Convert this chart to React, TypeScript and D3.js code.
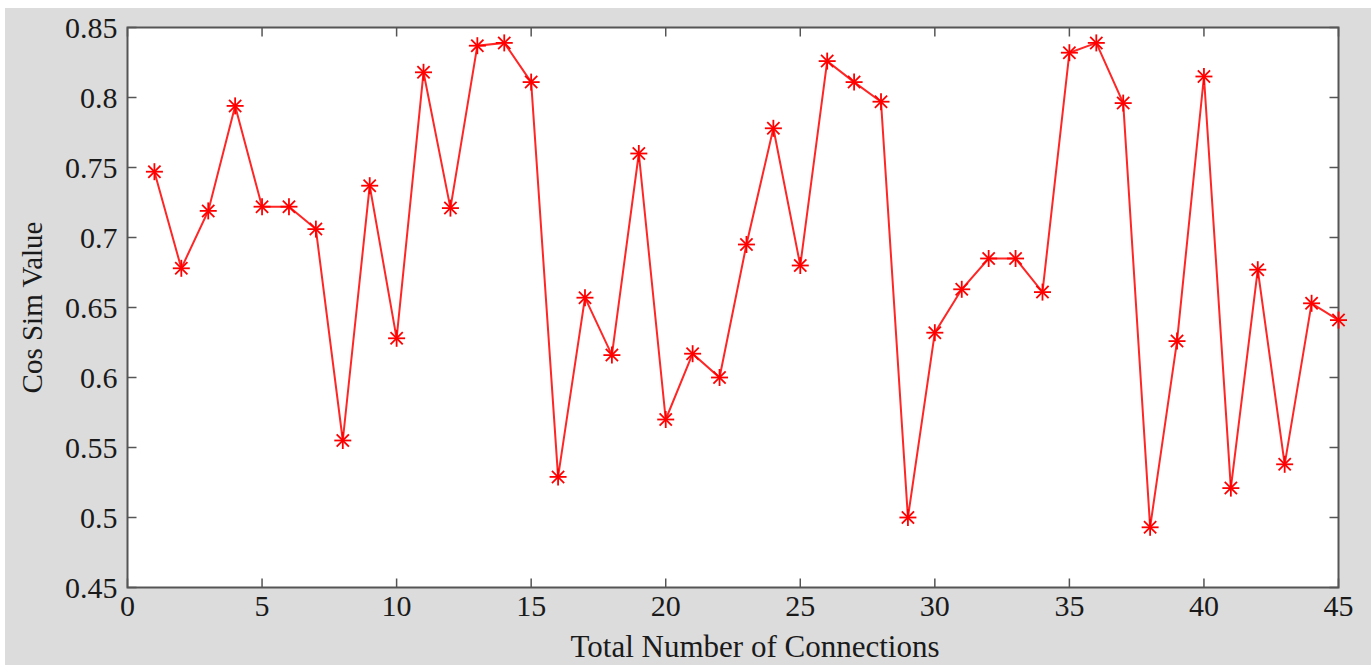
import React from "react";
import * as d3 from "d3";

const connections = d3.range(1, 46);
const cosSim = [
  0.747, 0.678, 0.719, 0.794, 0.722, 0.722, 0.706, 0.555, 0.737, 0.628,
  0.818, 0.721, 0.837, 0.839, 0.811, 0.529, 0.657, 0.616, 0.760, 0.570,
  0.617, 0.600, 0.695, 0.778, 0.680, 0.826, 0.811, 0.797, 0.500, 0.632,
  0.663, 0.685, 0.685, 0.661, 0.832, 0.839, 0.796, 0.493, 0.626, 0.815,
  0.521, 0.677, 0.538, 0.653, 0.641,
];
const xTicks = [0, 5, 10, 15, 20, 25, 30, 35, 40, 45];
const yTicks = [0.45, 0.5, 0.55, 0.6, 0.65, 0.7, 0.75, 0.8, 0.85];

const W = 1371;
const H = 665;
const L = 127.5, R = 1338.5, T = 27.5, B = 587.5;

export default function App() {
  const x = d3.scaleLinear().domain([0, 45]).range([L, R]);
  const y = d3.scaleLinear().domain([0.45, 0.85]).range([B, T]);
  const line = d3
    .line<number>()
    .x((_, i) => x(connections[i]))
    .y((d) => y(d));
  const axisColor = "#555";
  const tickLen = 9;
  const font = "'Liberation Serif', 'Times New Roman', serif";
  const ms = 8.5;
  const md = ms * 0.72;
  return (
    <svg
      width={W}
      height={H}
      style={{ position: "absolute", left: 0, top: 0, display: "block" }}
    >
      <rect x={5} y={8} width={W - 5} height={H - 8} fill="#dcdcdc" />
      <rect x={L} y={T} width={R - L} height={B - T} fill="#fff" />
      <g stroke={axisColor} strokeWidth={1.5}>
        {xTicks.map((t) => (
          <g key={"x" + t}>
            <line x1={x(t)} x2={x(t)} y1={B} y2={B - tickLen} />
            <line x1={x(t)} x2={x(t)} y1={T} y2={T + tickLen} />
          </g>
        ))}
        {yTicks.map((t) => (
          <g key={"y" + t}>
            <line x1={L} x2={L + tickLen} y1={y(t)} y2={y(t)} />
            <line x1={R} x2={R - tickLen} y1={y(t)} y2={y(t)} />
          </g>
        ))}
      </g>
      <rect
        x={L}
        y={T}
        width={R - L}
        height={B - T}
        fill="none"
        stroke={axisColor}
        strokeWidth={2}
      />
      <path
        d={line(cosSim) || ""}
        fill="none"
        stroke="#ff2626"
        strokeWidth={2}
      />
      <g stroke="#ff0000" strokeWidth={1.8}>
        {cosSim.map((v, i) => {
          const cx = x(connections[i]);
          const cy = y(v);
          return (
            <g key={i}>
              <line x1={cx - ms} x2={cx + ms} y1={cy} y2={cy} />
              <line x1={cx} x2={cx} y1={cy - ms} y2={cy + ms} />
              <line x1={cx - md} x2={cx + md} y1={cy - md} y2={cy + md} />
              <line x1={cx - md} x2={cx + md} y1={cy + md} y2={cy - md} />
            </g>
          );
        })}
      </g>
      <g fontFamily={font} fontSize={30} fill="#1a1a1a">
        {yTicks.map((t) => (
          <text
            key={"yl" + t}
            x={L - 10}
            y={y(t)}
            textAnchor="end"
            dominantBaseline="central"
          >
            {d3.format("")(t)}
          </text>
        ))}
        {xTicks.map((t) => (
          <text key={"xl" + t} x={x(t)} y={B + 28} textAnchor="middle">
            {t}
          </text>
        ))}
      </g>
      <text
        fontFamily={font}
        fontSize={31}
        fill="#1a1a1a"
        x={755}
        y={657}
        textAnchor="middle"
      >
        Total Number of Connections
      </text>
      <text
        fontFamily={font}
        fontSize={29}
        fill="#1a1a1a"
        transform={`translate(42, 307.5) rotate(-90)`}
        textAnchor="middle"
      >
        Cos Sim Value
      </text>
    </svg>
  );
}
